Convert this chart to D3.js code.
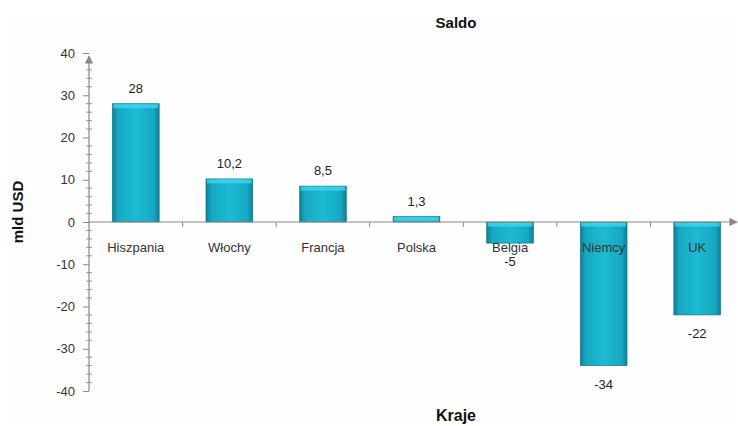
<!DOCTYPE html>
<html>
<head>
<meta charset="utf-8">
<script src="https://cdn.jsdelivr.net/npm/d3@7"></script>
<style>
  body { margin: 0; background: #fff; }
  text { font-family: "Liberation Sans", Arial, sans-serif; }
</style>
</head>
<body>
<div id="chart-area"></div>
<script>
var width = 738;
var height = 426;

// data
var countries = ["Hiszpania", "Włochy", "Francja", "Polska", "Belgia", "Niemcy", "UK"];
var saldo = [28, 10.2, 8.5, 1.3, -5, -34, -22];
var valueLabels = ["28", "10,2", "8,5", "1,3", "-5", "-34", "-22"];
var yTicks = [-40, -30, -20, -10, 0, 10, 20, 30, 40];

var data = countries.map(function(c, i) {
  return { name: c, value: saldo[i], label: valueLabels[i] };
});

// Canvas
var svg = d3.select("#chart-area")
  .append("svg")
  .attr("width", width)
  .attr("height", height);

svg.append("rect")
  .attr("x", 8).attr("y", 15)
  .attr("width", 728).attr("height", 408)
  .attr("fill", "#fefefe");

var defs = svg.append("defs");
var grad = defs.append("linearGradient")
  .attr("id", "barGrad")
  .attr("x1", "0%").attr("x2", "100%").attr("y1", "0%").attr("y2", "0%");
grad.append("stop").attr("offset", "0%").attr("stop-color", "#0d7f95");
grad.append("stop").attr("offset", "12%").attr("stop-color", "#17a8c2");
grad.append("stop").attr("offset", "50%").attr("stop-color", "#1cbad3");
grad.append("stop").attr("offset", "88%").attr("stop-color", "#17a8c2");
grad.append("stop").attr("offset", "100%").attr("stop-color", "#0d7f95");

var arrow = defs.append("marker")
  .attr("id", "arrow")
  .attr("viewBox", "0 0 10 10")
  .attr("refX", 9).attr("refY", 5)
  .attr("markerWidth", 7).attr("markerHeight", 7)
  .attr("orient", "auto");
arrow.append("path").attr("d", "M0,0L10,5L0,10Z").attr("fill", "#888");

//  X: countries
var x = d3.scaleBand()
  .domain(countries)
  .range([89, 744])
  .paddingInner(0.5)
  .paddingOuter(0.25);

//  Y: saldo
var y = d3.scaleLinear()
  .domain([-40, 40])
  .range([391, 53]);

// Y axis
var yAxis = d3.axisLeft(y)
  .tickValues(yTicks)
  .tickSize(6)
  .tickPadding(8)
  .tickFormat(function(d) { return String(d); });

var gy = svg.append("g")
  .attr("transform", "translate(89,0)")
  .call(yAxis);
gy.select(".domain").remove();
gy.selectAll(".tick line").attr("stroke", "#888");
gy.selectAll(".tick text")
  .attr("fill", "#333")
  .style("font-size", "13px")
  .style("font-family", "Liberation Sans, Arial, sans-serif");

// minor ticks
var minor = d3.range(-40, 41, 2).filter(function(v) { return v % 10 !== 0; });
svg.append("g").selectAll("line")
  .data(minor)
  .enter()
  .append("line")
  .attr("x1", 86).attr("x2", 92)
  .attr("y1", function(d) { return y(d); })
  .attr("y2", function(d) { return y(d); })
  .attr("stroke", "#999");

svg.append("line")
  .attr("x1", 89).attr("x2", 89)
  .attr("y1", y(-40)).attr("y2", 56)
  .attr("stroke", "#888")
  .attr("stroke-width", 1.2)
  .attr("marker-end", "url(#arrow)");

//  Create bars
svg.selectAll("rect.bar")
  .data(data)
  .enter()
  .append("rect")
  .attr("class", "bar")
  .attr("x", function(d) { return x(d.name); })
  .attr("y", function(d) { return y(Math.max(0, d.value)); })
  .attr("width", x.bandwidth())
  .attr("height", function(d) { return Math.abs(y(d.value) - y(0)); })
  .attr("fill", "url(#barGrad)")
  .attr("stroke", "#0b7388")
  .attr("stroke-width", 0.6);

// bevel highlight on top edge
svg.selectAll("rect.bevel")
  .data(data)
  .enter()
  .append("rect")
  .attr("class", "bevel")
  .attr("x", function(d) { return x(d.name) + 1; })
  .attr("y", function(d) { return y(Math.max(0, d.value)) + 0.5; })
  .attr("width", x.bandwidth() - 2)
  .attr("height", function(d) { return Math.min(4, Math.abs(y(d.value) - y(0)) - 1); })
  .attr("fill", "#3fd6ee")
  .attr("opacity", 0.8);

// X axis line and category boundary ticks
svg.append("line")
  .attr("x1", 89).attr("x2", 737)
  .attr("y1", y(0)).attr("y2", y(0))
  .attr("stroke", "#888")
  .attr("stroke-width", 1.2)
  .attr("marker-end", "url(#arrow)");

var step = x.step();
svg.append("g").selectAll("line")
  .data(countries.slice(1))
  .enter()
  .append("line")
  .attr("x1", function(d) { return x(d) - step * x.paddingInner() / 2; })
  .attr("x2", function(d) { return x(d) - step * x.paddingInner() / 2; })
  .attr("y1", y(0)).attr("y2", y(0) + 5)
  .attr("stroke", "#888");

// category labels
svg.selectAll("text.cat")
  .data(data)
  .enter()
  .append("text")
  .attr("class", "cat")
  .attr("x", function(d) { return x(d.name) + x.bandwidth() / 2; })
  .attr("y", y(0) + 30)
  .attr("text-anchor", "middle")
  .attr("fill", "#333")
  .style("font-size", "13px")
  .text(function(d) { return d.name; });

// value labels
svg.selectAll("text.val")
  .data(data)
  .enter()
  .append("text")
  .attr("class", "val")
  .attr("x", function(d) { return x(d.name) + x.bandwidth() / 2; })
  .attr("y", function(d) {
    return d.value >= 0 ? y(d.value) - 11 : y(d.value) + 23;
  })
  .attr("text-anchor", "middle")
  .attr("fill", "#222")
  .style("font-size", "13px")
  .text(function(d) { return d.label; });

// titles
svg.append("text")
  .attr("x", 456).attr("y", 28)
  .attr("text-anchor", "middle")
  .style("font-size", "15px")
  .style("font-weight", "bold")
  .attr("fill", "#111")
  .text("Saldo");

svg.append("text")
  .attr("x", 456).attr("y", 421)
  .attr("text-anchor", "middle")
  .style("font-size", "16px")
  .style("font-weight", "bold")
  .attr("fill", "#111")
  .text("Kraje");

svg.append("text")
  .attr("transform", "translate(23,212) rotate(-90)")
  .attr("text-anchor", "middle")
  .style("font-size", "15px")
  .style("font-weight", "bold")
  .attr("fill", "#111")
  .text("mld USD");
</script>
</body>
</html>
